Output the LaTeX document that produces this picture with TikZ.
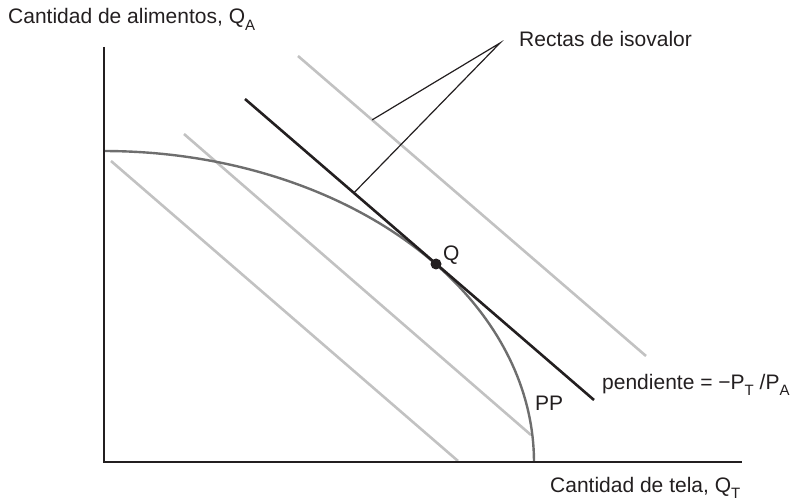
\documentclass[tikz,border=0pt]{standalone}
\usepackage{fontspec}
\setmainfont{Liberation Sans}
\usetikzlibrary{calc}
\definecolor{ink}{HTML}{231F20}
\definecolor{ppgray}{HTML}{6E6E6E}
\definecolor{isogray}{HTML}{C2C2C2}
\newcommand\subs[1]{\raisebox{-6.5pt}{\fontsize{15}{15}\selectfont #1}}
\begin{document}
\begin{tikzpicture}[x=1pt,y=-1pt,
  axis/.style={draw=ink,line width=2.6pt},
  isoline/.style={draw=isogray,line width=2.6pt},
  mainline/.style={draw=ink,line width=2.6pt},
  ppcurve/.style={draw=ppgray,line width=2.4pt},
  leader/.style={draw=ink,line width=1.2pt},
  lbl/.style={inner sep=0pt,anchor=base west,text=ink,font=\fontsize{21}{25}\selectfont}]
\useasboundingbox (0,0) rectangle (794,502);
% axes
\coordinate (O) at (104,462);
\coordinate (ytop) at (104,47);
\coordinate (xend) at (742,462);
% isovalue lines
\coordinate (g1s) at (111,161); \coordinate (g1e) at (458,461);
\coordinate (g2s) at (184,134); \coordinate (g2e) at (531,435);
\coordinate (g3s) at (298,56);  \coordinate (g3e) at (646,356);
\coordinate (bs) at (245,99);   \coordinate (be) at (594,400);
\draw[isoline] (g1s) -- (g1e);
\draw[isoline] (g2s) -- (g2e);
\draw[isoline] (g3s) -- (g3e);
% PP curve
\draw[ppcurve] plot[domain=0:90,samples=80] ({104+430*cos(\x)},{462-311*sin(\x)});
\draw[mainline] (bs) -- (be);
\draw[axis] (ytop) -- (O) -- (xend);
% Q
\node[circle,fill=ink,inner sep=0pt,minimum size=11pt] (Q) at (436,264) {};
\node[lbl] (Qlbl) at (443,261) {Q};
% leaders
\node[lbl] (rectas) at (519,47) {Rectas de isovalor};
\coordinate (lead) at (500,43);
\coordinate (l1) at ($(g3s)!0.213!(g3e)$);
\coordinate (l2) at ($(bs)!0.312!(be)$);
\draw[leader] (l1) -- (lead) -- (l2);
% labels
\node[lbl] (ya) at (8,24) {Cantidad de alimentos, Q\subs{A}};
\node[lbl] (xa) at (550,492) {Cantidad de tela, Q\subs{T}};
\node[lbl] (pp) at (535,410) {PP};
\node[lbl] (pend) at (602,389) {pendiente = −P\subs{T} /P\subs{A}};
\end{tikzpicture}
\end{document}
